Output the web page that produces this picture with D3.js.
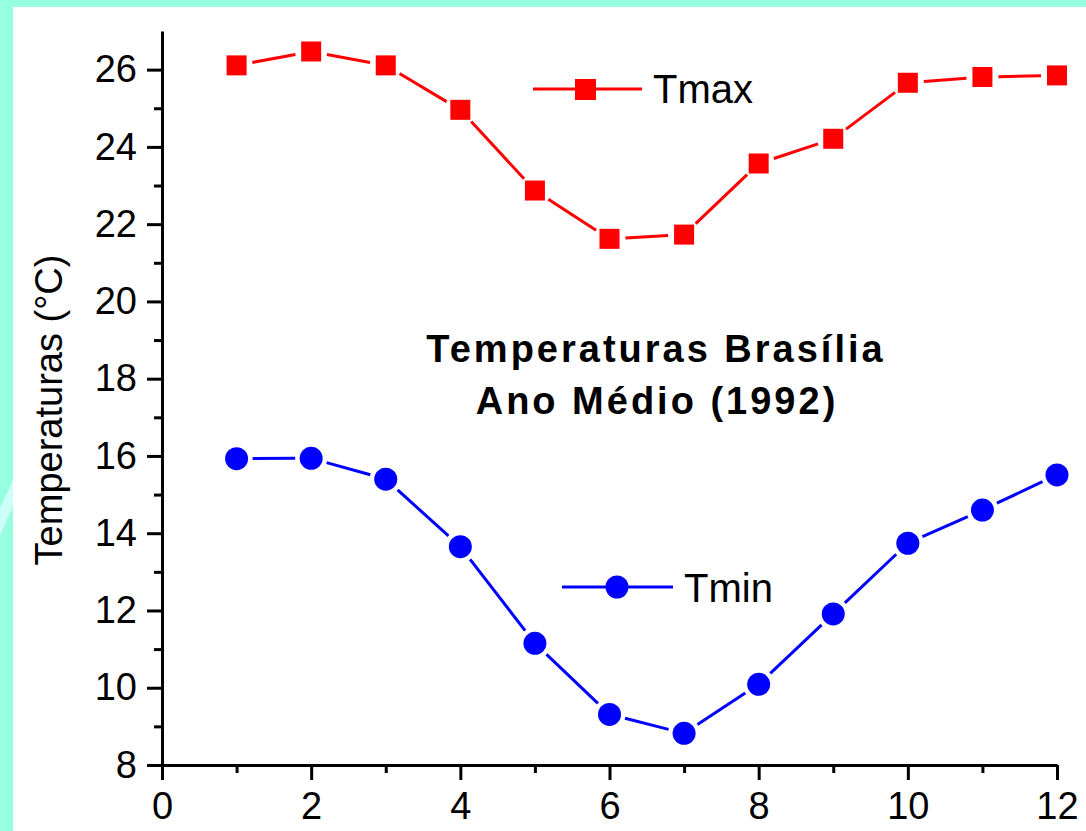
<!DOCTYPE html>
<html>
<head>
<meta charset="utf-8">
<script src="https://cdn.jsdelivr.net/npm/d3@7"></script>
<style>
  html, body { margin: 0; padding: 0; background: #fff; }
  svg { display: block; font-family: "Liberation Sans", Arial, sans-serif; }
</style>
</head>
<body>
<div id="chart"></div>
<script>
const months = [1, 2, 3, 4, 5, 6, 7, 8, 9, 10, 11, 12];
const tmax = [26.11, 26.47, 26.11, 24.96, 22.87, 21.62, 21.73, 23.57, 24.21, 25.66, 25.81, 25.85];
const tmin = [15.93, 15.94, 15.40, 13.65, 11.15, 9.31, 8.82, 10.09, 11.91, 13.74, 14.60, 15.51];
const xTicks = [0, 2, 4, 6, 8, 10, 12];
const xMinor = [1, 3, 5, 7, 9, 11];
const yTicks = [8, 10, 12, 14, 16, 18, 20, 22, 24, 26];
const yMinor = [9, 11, 13, 15, 17, 19, 21, 23, 25, 27];

const W = 1086, H = 831;

const svg = d3.select("#chart").append("svg")
  .attr("width", W)
  .attr("height", H);

// cyan frame (top + left) with light streak
svg.append("rect").attr("x", 0).attr("y", 0).attr("width", W).attr("height", H).attr("fill", "#95ffe0");
svg.append("polygon").attr("points", "0,508 13,480 13,506 0,536").attr("fill", "#ccfff8");
svg.append("rect").attr("x", 13).attr("y", 7).attr("width", W - 13).attr("height", H - 7).attr("fill", "#fff");

const x = d3.scaleLinear().domain([0, 12]).range([162, 1057]);
const y = d3.scaleLinear().domain([8, 27]).range([765, 31]);

// minor ticks
svg.append("g")
  .attr("transform", "translate(0,765)")
  .call(d3.axisBottom(x).tickValues(xMinor).tickSize(8).tickFormat(""))
  .call(g => g.select(".domain").remove())
  .call(g => g.selectAll("line").attr("stroke", "#000").attr("stroke-width", 3));

svg.append("g")
  .attr("transform", "translate(162,0)")
  .call(d3.axisLeft(y).tickValues(yMinor.filter(v => v < 27)).tickSize(8).tickFormat(""))
  .call(g => g.select(".domain").remove())
  .call(g => g.selectAll("line").attr("stroke", "#000").attr("stroke-width", 3));

// major axes
const xAxis = svg.append("g")
  .attr("transform", "translate(0,765)")
  .call(d3.axisBottom(x).tickValues(xTicks).tickSize(15).tickSizeOuter(0).tickPadding(12));

const yAxis = svg.append("g")
  .attr("transform", "translate(162,0)")
  .call(d3.axisLeft(y).tickValues(yTicks).tickSize(15).tickSizeOuter(0).tickPadding(10));

[xAxis, yAxis].forEach(g => {
  g.select(".domain").attr("stroke", "#000").attr("stroke-width", 3);
  g.selectAll(".tick line").attr("stroke", "#000").attr("stroke-width", 3);
  g.selectAll(".tick text")
    .attr("fill", "#000")
    .style("font-size", "38px")
    .style("font-family", "'Liberation Sans', Arial, sans-serif");
});

// y axis label
svg.append("text")
  .attr("transform", "translate(62,410) rotate(-90)")
  .attr("text-anchor", "middle")
  .style("font-size", "38px")
  .text("Temperaturas (°C)");

// broken line segments between markers (gap around each marker)
function drawSeries(values, color, gap) {
  const pts = months.map((m, i) => [x(m), y(values[i])]);
  const segs = d3.pairs(pts).map(([a, b]) => {
    const dx = b[0] - a[0], dy = b[1] - a[1];
    const len = Math.sqrt(dx * dx + dy * dy);
    const ux = dx / len, uy = dy / len;
    return [[a[0] + ux * gap, a[1] + uy * gap], [b[0] - ux * gap, b[1] - uy * gap]];
  });
  svg.append("g")
    .selectAll("line")
    .data(segs)
    .enter()
    .append("line")
    .attr("x1", d => d[0][0])
    .attr("y1", d => d[0][1])
    .attr("x2", d => d[1][0])
    .attr("y2", d => d[1][1])
    .attr("stroke", color)
    .attr("stroke-width", 3);
  return pts;
}

const maxPts = drawSeries(tmax, "#ff0000", 16);
svg.append("g")
  .selectAll("rect")
  .data(maxPts)
  .enter()
  .append("rect")
  .attr("x", d => d[0] - 10)
  .attr("y", d => d[1] - 10)
  .attr("width", 20)
  .attr("height", 20)
  .attr("fill", "#ff0000");

const minPts = drawSeries(tmin, "#0000ff", 16);
svg.append("g")
  .selectAll("circle")
  .data(minPts)
  .enter()
  .append("circle")
  .attr("cx", d => d[0])
  .attr("cy", d => d[1])
  .attr("r", 11.5)
  .attr("fill", "#0000ff");

// legends
const legTmax = svg.append("g");
legTmax.append("line").attr("x1", 533).attr("x2", 642).attr("y1", 89).attr("y2", 89)
  .attr("stroke", "#ff0000").attr("stroke-width", 3);
legTmax.append("rect").attr("x", 575).attr("y", 79).attr("width", 21).attr("height", 21).attr("fill", "#ff0000");
legTmax.append("text").attr("x", 653).attr("y", 103).style("font-size", "40px").text("Tmax");

const legTmin = svg.append("g");
legTmin.append("line").attr("x1", 562).attr("x2", 673).attr("y1", 587).attr("y2", 587)
  .attr("stroke", "#0000ff").attr("stroke-width", 3);
legTmin.append("circle").attr("cx", 617).attr("cy", 587).attr("r", 11.5).attr("fill", "#0000ff");
legTmin.append("text").attr("x", 684).attr("y", 602).style("font-size", "40px").text("Tmin");

// title
const title = svg.append("text")
  .attr("text-anchor", "middle")
  .style("font-size", "38px")
  .style("font-weight", "bold")
  .style("letter-spacing", "3px");
title.append("tspan").attr("x", 656).attr("y", 362).text("Temperaturas Brasília");
title.append("tspan").attr("x", 657).attr("y", 414).text("Ano Médio (1992)");
</script>
</body>
</html>
